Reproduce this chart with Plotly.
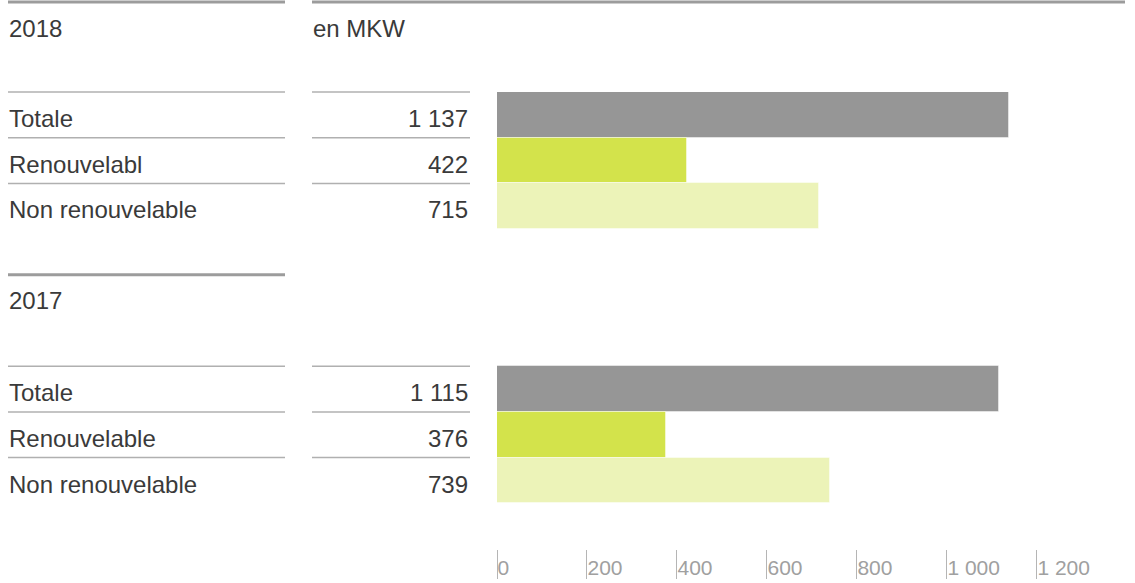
import plotly.graph_objects as go

# Data
years = ["2018", "2017"]
labels_2018 = ["Totale", "Renouvelabl", "Non renouvelable"]
labels_2017 = ["Totale", "Renouvelable", "Non renouvelable"]
values_2018 = [1137, 422, 715]
values_2017 = [1115, 376, 739]
unit_label = "en MKW"
tick_values = [0, 200, 400, 600, 800, 1000, 1200]

bar_colors = ["#969696", "#d3e34b", "#ecf3b8"]
text_color = "#3a3a3a"
line_color = "#b0b0b0"
thick_color = "#9c9c9c"

# row slots on the y axis (reversed), one block per year
rows_2018 = [0, 1, 2]
rows_2017 = [6, 7, 8]
y_lo, y_hi = -0.5, 9.5

W, H = 1135, 583
m_l, m_r, m_t, m_b = 497, 0, 92, 34
plot_w = W - m_l - m_r


def py(row):
    # paper y for a row position
    return (y_hi - row) / (y_hi - y_lo)


def px(x_pixel):
    # paper x for a pixel column
    return (x_pixel - m_l) / plot_w


def fmt(v):
    return f"{v:,}".replace(",", " ")


fig = go.Figure()

for rows, vals in [(rows_2018, values_2018), (rows_2017, values_2017)]:
    fig.add_trace(go.Bar(
        y=rows, x=vals, orientation="h",
        marker=dict(color=bar_colors, line=dict(color="rgba(255,255,255,0.45)", width=1)),
        width=1.0, showlegend=False, hoverinfo="skip"
    ))

shapes = []
annotations = []
font = dict(family="Liberation Sans, Arial, sans-serif", size=24, color=text_color)

# top thick rules
shapes.append(dict(type="line", xref="paper", yref="paper", x0=px(8), x1=px(285),
                   y0=py(-2.47), y1=py(-2.47), line=dict(color=thick_color, width=3)))
shapes.append(dict(type="line", xref="paper", yref="paper", x0=px(312), x1=px(1125),
                   y0=py(-2.47), y1=py(-2.47), line=dict(color=thick_color, width=3)))
# rule above 2017 block
shapes.append(dict(type="line", xref="paper", yref="paper", x0=px(8), x1=px(285),
                   y0=py(3.5), y1=py(3.5), line=dict(color=thick_color, width=3)))

annotations.append(dict(text=years[0], xref="paper", yref="paper", x=px(7), y=py(-1.9),
                        xanchor="left", yanchor="middle", showarrow=False, font=font))
annotations.append(dict(text=unit_label, xref="paper", yref="paper", x=px(311), y=py(-1.9),
                        xanchor="left", yanchor="middle", showarrow=False, font=font))
annotations.append(dict(text=years[1], xref="paper", yref="paper", x=px(7), y=py(4.07),
                        xanchor="left", yanchor="middle", showarrow=False, font=font))

for rows, labels, vals in [(rows_2018, labels_2018, values_2018),
                           (rows_2017, labels_2017, values_2017)]:
    for r, lab, v in zip(rows, labels, vals):
        shapes.append(dict(type="line", xref="paper", yref="paper", x0=px(8), x1=px(285),
                           y0=py(r - 0.5), y1=py(r - 0.5), line=dict(color=line_color, width=1.5)))
        shapes.append(dict(type="line", xref="paper", yref="paper", x0=px(312), x1=px(470),
                           y0=py(r - 0.5), y1=py(r - 0.5), line=dict(color=line_color, width=1.5)))
        annotations.append(dict(text=lab, xref="paper", yref="paper", x=px(7), y=py(r + 0.08),
                                xanchor="left", yanchor="middle", showarrow=False, font=font))
        annotations.append(dict(text=fmt(v), xref="paper", yref="paper", x=px(470), y=py(r + 0.08),
                                xanchor="right", yanchor="middle", showarrow=False, font=font))

fig.update_layout(
    width=W, height=H,
    margin=dict(l=m_l, r=m_r, t=m_t, b=m_b),
    paper_bgcolor="white", plot_bgcolor="white",
    separators=". ",
    bargap=0,
    shapes=shapes,
    annotations=annotations,
    xaxis=dict(range=[0, 1418], tickvals=tick_values, tickformat=",d",
               showgrid=False, zeroline=False, showline=False,
               ticks="outside", ticklen=29, tickwidth=1, tickcolor="#b5b5b5",
               ticklabelposition="outside right",
               tickfont=dict(family="Liberation Sans, Arial, sans-serif",
                             size=21, color="#a0a0a0")),
    yaxis=dict(range=[y_hi, y_lo], showgrid=False, zeroline=False, showline=False,
               showticklabels=False, ticks=""),
)

# drop the default 8px page margin so the figure sits at the window corner
fig.write_html("out.html", config={"displayModeBar": False},
               post_script="document.body.style.margin='0';")
